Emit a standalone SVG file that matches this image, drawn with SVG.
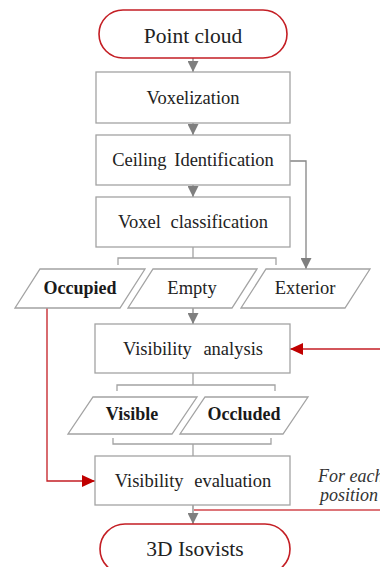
<svg xmlns="http://www.w3.org/2000/svg" width="380" height="567" viewBox="0 0 380 567" font-family="'Liberation Serif', 'DejaVu Serif', serif">
  <style>
    .box { fill: #ffffff; stroke: #a3a3a3; stroke-width: 1.3; }
    .term { fill: #ffffff; stroke: #c41e24; stroke-width: 1.6; }
    text { font-family: "Liberation Serif", "DejaVu Serif", serif; }
    .lbl { font-size: 18.5px; fill: #222222; text-anchor: middle; }
    .big { font-size: 21.5px; }
    .bold { font-size: 18px; font-weight: bold; fill: #1a1a1a; }
    .note { font-size: 18px; font-style: italic; fill: #333333; }
    .flow { fill: none; stroke: #858585; stroke-width: 1.3; }
    .brace { fill: none; stroke: #a3a3a3; stroke-width: 1.3; }
    .loop { fill: none; stroke: #c41e24; stroke-width: 1.3; }
  </style>
  <defs>
    <marker id="ah-gray" viewBox="0 0 10 10" refX="10" refY="5" markerWidth="11" markerHeight="11" markerUnits="userSpaceOnUse" orient="auto">
      <path d="M0,0 L10,5 L0,10 z" fill="#7f7f7f"/>
    </marker>
    <marker id="ah-red" viewBox="0 0 10 10" refX="10" refY="5" markerWidth="13" markerHeight="12" markerUnits="userSpaceOnUse" orient="auto" preserveAspectRatio="none">
      <path d="M0,0 L10,5 L0,10 z" fill="#c00000"/>
    </marker>
  </defs>

  <rect width="380" height="567" fill="#ffffff"/>

  <!-- flow lines, brackets and loops -->
  <g id="connectors">
    <path class="flow" d="M193,58 V72" marker-end="url(#ah-gray)"/>
    <path class="flow" d="M193,123 V135" marker-end="url(#ah-gray)"/>
    <path class="flow" d="M193,185 V197" marker-end="url(#ah-gray)"/>
    <path class="flow" d="M290,161 H306 V269" marker-end="url(#ah-gray)"/>
    <path class="brace" d="M193,247 V258 M118,265 V258 H276 V265"/>
    <path class="flow" d="M193,308 V324" marker-end="url(#ah-gray)"/>
    <path class="brace" d="M193,373 V385 M117,391 V385 H275 V391"/>
    <path class="brace" d="M113,438 V444 H271 V438 M193,444 V456"/>
    <path class="flow" d="M193,505 V524" marker-end="url(#ah-gray)"/>
    <path class="loop" d="M380,349 H290" marker-end="url(#ah-red)"/>
    <path class="loop" d="M47,308 V481 H95" marker-end="url(#ah-red)"/>
    <path d="M194,510 H380" fill="none" stroke="#d2474c" stroke-width="1.6"/>
  </g>

  <g id="point-cloud">
    <rect class="term" x="99" y="10" width="188" height="48" rx="24" ry="24"/>
    <text class="lbl big" x="193" y="43">Point cloud</text>
  </g>

  <g id="voxelization">
    <rect class="box" x="96" y="72" width="194" height="51"/>
    <text class="lbl" x="193" y="104">Voxelization</text>
  </g>

  <g id="ceiling-identification">
    <rect class="box" x="96" y="135" width="194" height="50"/>
    <text class="lbl" x="193" y="166" word-spacing="3">Ceiling Identification</text>
  </g>

  <g id="voxel-classification">
    <rect class="box" x="96" y="197" width="194" height="50"/>
    <text class="lbl" x="193" y="228" word-spacing="5">Voxel classification</text>
  </g>

  <g id="occupied">
    <polygon class="box" points="40,269 145,269 120,308 15,308"/>
    <text class="lbl bold" x="80" y="294">Occupied</text>
  </g>

  <g id="empty">
    <polygon class="box" points="153,269 257,269 232,308 128,308"/>
    <text class="lbl" x="192" y="294">Empty</text>
  </g>

  <g id="exterior">
    <polygon class="box" points="266,269 370,269 345,308 241,308"/>
    <text class="lbl" x="305" y="294">Exterior</text>
  </g>

  <g id="visibility-analysis">
    <rect class="box" x="95" y="324" width="195" height="49"/>
    <text class="lbl" x="193" y="355" word-spacing="7">Visibility analysis</text>
  </g>

  <g id="visible">
    <polygon class="box" points="93,397 197,397 172,434 68,434"/>
    <text class="lbl bold" x="132" y="420">Visible</text>
  </g>

  <g id="occluded">
    <polygon class="box" points="205,397 308,397 283,434 180,434"/>
    <text class="lbl bold" x="244" y="420">Occluded</text>
  </g>

  <g id="visibility-evaluation">
    <rect class="box" x="95" y="456" width="195" height="49"/>
    <text class="lbl" x="193" y="487" word-spacing="6">Visibility evaluation</text>
  </g>

  <g id="isovists">
    <rect class="term" x="100" y="524" width="190" height="50" rx="25" ry="25"/>
    <text class="lbl big" x="195" y="556">3D Isovists</text>
  </g>

  <g id="loop-note">
    <text class="note" x="318" y="482">For each</text>
    <text class="note" x="320" y="501">position</text>
  </g>
</svg>
